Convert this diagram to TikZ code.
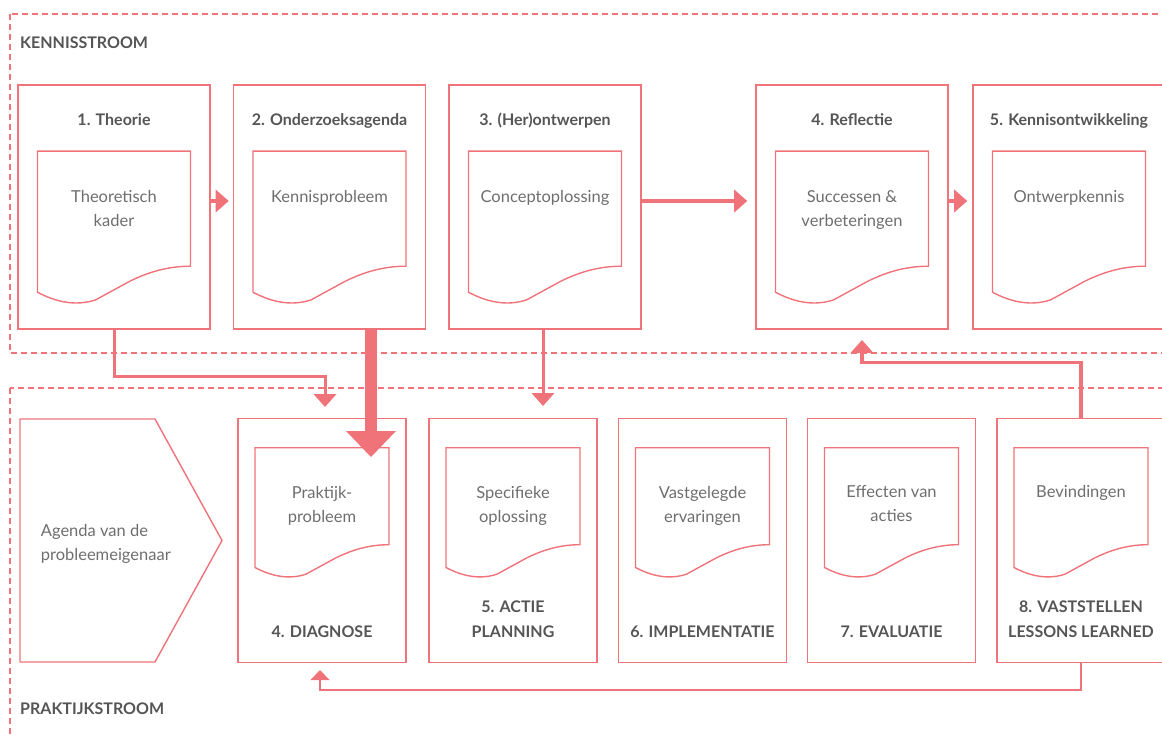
\documentclass[tikz,border=0pt]{standalone}
\usepackage{fontspec}
\setmainfont{Lato}
\usetikzlibrary{arrows.meta,positioning}

\definecolor{salmon}{RGB}{240,115,122}
\definecolor{inkdark}{RGB}{85,85,85}
\definecolor{inklight}{RGB}{110,110,110}

% document sheet with a wavy lower edge, hung below the top of a box
% #1 box, #2 offset below its top, #3 width, #4 depth of right side
\newcommand\docshape[4]{%
  \begin{scope}[shift={(#1.north)},xshift={-0.5*#3pt},yshift={-#2pt}]
    \draw[docline] (#3,#4) -- (#3,0) -- (0,0) -- (0,#4+0.17*#3)
      .. controls (0.13*#3,#4+0.24*#3) and (0.26*#3,#4+0.26*#3) .. (0.38*#3,#4+0.22*#3)
      -- (0.6*#3,#4+0.1*#3)
      .. controls (0.72*#3,#4+0.04*#3) and (0.85*#3,#4) .. cycle;
  \end{scope}}

\begin{document}
\begin{tikzpicture}[x=1pt,y=-1pt,
  stage/.style={draw=salmon,line width=1.6pt,minimum width=192pt,minimum height=244pt,inner sep=0pt},
  phase/.style={draw=salmon,line width=1.6pt,minimum width=168pt,minimum height=244pt,inner sep=0pt},
  docline/.style={draw=salmon,line width=1.4pt,line join=miter},
  stream/.style={draw=salmon,line width=1.3pt,dash pattern=on 6pt off 4pt},
  streamlabel/.style={font=\fontsize{16}{20}\selectfont\bfseries,text=inkdark,inner sep=0pt},
  title/.style={font=\fontsize{16}{20}\selectfont\bfseries,text=inkdark,inner sep=0pt,anchor=base},
  phasetitle/.style={font=\fontsize{16}{25}\selectfont\bfseries,text=inkdark,inner sep=0pt,
    align=center,anchor=south,execute at end node=\strut},
  doctext/.style={font=\fontsize{16.5}{24}\selectfont,text=inklight,inner sep=0pt,
    align=center,anchor=north,execute at begin node=\strut},
  link/.style={draw=salmon,line width=3.5pt,-{Triangle[width=23pt,length=13pt,line width=0pt]}},
  backlink/.style={draw=salmon,line width=2pt,-{Triangle[width=19pt,length=10pt,line width=0pt]}},
  bigflow/.style={draw=salmon,line width=12pt,-{Triangle[width=50pt,length=26pt,line width=0pt]}}]
\useasboundingbox (0,0) rectangle (1162,735);
\clip (0,0) rectangle (1162,735);

% streams
\draw[stream] (10,14) rectangle (1180,353);
\draw[stream] (10,388) rectangle (1180,760);
\node[streamlabel,anchor=base west] (kslabel) at (20,49) {KENNISSTROOM};
\node[streamlabel,anchor=base west] (pslabel) at (20,714) {PRAKTIJKSTROOM};

% kennisstroom
\node[stage] (t1) at (114,207) {};
\node[stage] (t2) at (329.5,207) {};
\node[stage] (t3) at (545,207) {};
\node[stage] (t4) at (852,207) {};
\node[stage] (t5) at (1069,207) {};

\node[title] (t1title) at ([yshift=-41pt]t1.north) {1. Theorie};
\node[title] (t2title) at ([yshift=-41pt]t2.north) {2. Onderzoeksagenda};
\node[title] (t3title) at ([yshift=-41pt]t3.north) {3. (Her)ontwerpen};
\node[title] (t4title) at ([yshift=-41pt]t4.north) {4. Reflectie};
\node[title] (t5title) at ([yshift=-41pt]t5.north) {5. Kennisontwikkeling};

\docshape{t1}{67}{153}{115}
\docshape{t2}{67}{153}{115}
\docshape{t3}{67}{153}{115}
\docshape{t4}{67}{153}{115}
\docshape{t5}{67}{153}{115}

\node[doctext] (t1doc) at ([yshift=-106pt]t1.north) {Theoretisch\\kader};
\node[doctext] (t2doc) at ([yshift=-101pt]t2.north) {Kennisprobleem};
\node[doctext] (t3doc) at ([yshift=-101pt]t3.north) {Conceptoplossing};
\node[doctext] (t4doc) at ([yshift=-106pt]t4.north) {Successen \&\\verbeteringen};
\node[doctext] (t5doc) at ([yshift=-101pt]t5.north) {Ontwerpkennis};

% praktijkstroom
\draw[docline] (20,419) -- (155,419) -- (222,540.5) -- (155,662) -- (20,662) -- cycle;
\node[doctext,align=left,anchor=north west] (agenda) at (40.7,524) {Agenda van de\\probleemeigenaar};

\node[phase] (p4) at (322,540.5) {};
\node[phase] (p5) at (513,540.5) {};
\node[phase] (p6) at (702.5,540.5) {};
\node[phase] (p7) at (891.5,540.5) {};
\node[phase] (p8) at (1081,540.5) {};

\docshape{p4}{30}{134}{97}
\docshape{p5}{30}{134}{97}
\docshape{p6}{30}{134}{97}
\docshape{p7}{30}{134}{97}
\docshape{p8}{30}{134}{97}

\node[doctext] (p4doc) at ([yshift=-68pt]p4.north) {Praktijk-\\probleem};
\node[doctext] (p5doc) at ([yshift=-68pt]p5.north) {Specifieke\\oplossing};
\node[doctext] (p6doc) at ([yshift=-68pt]p6.north) {Vastgelegde\\ervaringen};
\node[doctext] (p7doc) at ([yshift=-68pt]p7.north) {Effecten van\\acties};
\node[doctext] (p8doc) at ([yshift=-63pt]p8.north) {Bevindingen};

\node[phasetitle] (p4title) at ([yshift=18.5pt]p4.south) {4. DIAGNOSE};
\node[phasetitle] (p5title) at ([yshift=18.5pt]p5.south) {5. ACTIE\\PLANNING};
\node[phasetitle] (p6title) at ([yshift=18.5pt]p6.south) {6. IMPLEMENTATIE};
\node[phasetitle] (p7title) at ([yshift=18.5pt]p7.south) {7. EVALUATIE};
\node[phasetitle] (p8title) at ([yshift=18.5pt]p8.south) {8. VASTSTELLEN\\LESSONS LEARNED};

% connectors
\draw[link,shorten >=4pt] ([yshift=6pt]t1.east) -- ([yshift=6pt]t2.west);
\draw[link,shorten >=8pt] ([yshift=6pt]t3.east) -- ([yshift=6pt]t4.west);
\draw[link,shorten >=5pt] ([yshift=6pt]t4.east) -- ([yshift=6pt]t5.west);

\coordinate (k1) at (325,407);
\coordinate (k2) at (371,457);
\coordinate (k3) at (543,406);
\coordinate (k4) at (862,340);
\coordinate (k5) at (320,670);

\draw[link,line width=3pt] (t1.south) -- ++(0,47) -| (k1);
\draw[bigflow] (t2.south -| k2) -- (k2);
\draw[link,line width=3pt] (t3.south -| k3) -- (k3);
\draw[link] (p8.north) -- ++(0,-55) -| (k4);
\draw[backlink] (p8.south) -- ++(0,27) -| (k5);
\end{tikzpicture}
\end{document}
